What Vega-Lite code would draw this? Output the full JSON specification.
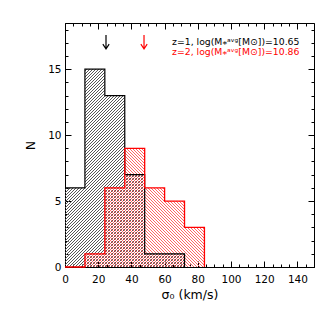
{
"$schema":"https://vega.github.io/schema/vega-lite/v6.json",
"width":249,"height":244,
"autosize":{"type":"none"},
"padding":{"left":65,"top":23,"right":22,"bottom":47},
"background":"white",
"datasets":{
"z1":[{"sigma":0,"n":6},{"sigma":12,"n":15},{"sigma":24,"n":13},{"sigma":36,"n":7},{"sigma":48,"n":1},{"sigma":60,"n":1},{"sigma":72,"n":0}],
"z2":[{"sigma":0,"n":0},{"sigma":12,"n":1},{"sigma":24,"n":6},{"sigma":36,"n":9},{"sigma":48,"n":6},{"sigma":60,"n":5},{"sigma":72,"n":3},{"sigma":84,"n":0}],
"arrows":[{"z":"z=1","sigma":24.7},{"z":"z=2","sigma":47.6}]
},
"config":{
"view":{"stroke":"#000","strokeWidth":1},
"axis":{"domain":false,"grid":false,"tickColor":"#000","tickWidth":1,"labelFont":"DejaVu Sans","labelFontSize":10.5,"labelColor":"#000","titleFont":"DejaVu Sans","titleFontSize":12.5,"titleFontWeight":"normal","titleColor":"#000","zindex":1,"labelFlush":false,"labelOverlap":false}
},
"resolve":{"axis":{"x":"independent","y":"independent"}},
"layer":[
{"data":{"name":"z1"},
"mark":{"type":"area","interpolate":"step-after","opacity":1,"fill":{"gradient":"linear","x1":0,"y1":0,"x2":0.8948645,"y2":1.4812422,"stops":[
{"offset":0.0021,"color":"#555"},{"offset":0.0046,"color":"#5550"},{"offset":0.0071,"color":"#5550"},
{"offset":0.0096,"color":"#555"},{"offset":0.0121,"color":"#5550"},{"offset":0.0146,"color":"#5550"},
{"offset":0.0171,"color":"#555"},{"offset":0.0196,"color":"#5550"},{"offset":0.0221,"color":"#5550"},
{"offset":0.0246,"color":"#555"},{"offset":0.0271,"color":"#5550"},{"offset":0.0296,"color":"#5550"},
{"offset":0.0321,"color":"#555"},{"offset":0.0346,"color":"#5550"},{"offset":0.0371,"color":"#5550"},
{"offset":0.0396,"color":"#555"},{"offset":0.0421,"color":"#5550"},{"offset":0.0446,"color":"#5550"},
{"offset":0.0471,"color":"#555"},{"offset":0.0496,"color":"#5550"},{"offset":0.0521,"color":"#5550"},
{"offset":0.0546,"color":"#555"},{"offset":0.0571,"color":"#5550"},{"offset":0.0596,"color":"#5550"},
{"offset":0.0621,"color":"#555"},{"offset":0.0646,"color":"#5550"},{"offset":0.0671,"color":"#5550"},
{"offset":0.0696,"color":"#555"},{"offset":0.0721,"color":"#5550"},{"offset":0.0746,"color":"#5550"},
{"offset":0.0771,"color":"#555"},{"offset":0.0796,"color":"#5550"},{"offset":0.0821,"color":"#5550"},
{"offset":0.0846,"color":"#555"},{"offset":0.0871,"color":"#5550"},{"offset":0.0896,"color":"#5550"},
{"offset":0.0921,"color":"#555"},{"offset":0.0946,"color":"#5550"},{"offset":0.0971,"color":"#5550"},
{"offset":0.0996,"color":"#555"},{"offset":0.1021,"color":"#5550"},{"offset":0.1046,"color":"#5550"},
{"offset":0.1071,"color":"#555"},{"offset":0.1096,"color":"#5550"},{"offset":0.1121,"color":"#5550"},
{"offset":0.1146,"color":"#555"},{"offset":0.1171,"color":"#5550"},{"offset":0.1196,"color":"#5550"},
{"offset":0.1221,"color":"#555"},{"offset":0.1246,"color":"#5550"},{"offset":0.1271,"color":"#5550"},
{"offset":0.1296,"color":"#555"},{"offset":0.1321,"color":"#5550"},{"offset":0.1346,"color":"#5550"},
{"offset":0.1371,"color":"#555"},{"offset":0.1396,"color":"#5550"},{"offset":0.1421,"color":"#5550"},
{"offset":0.1446,"color":"#555"},{"offset":0.1471,"color":"#5550"},{"offset":0.1496,"color":"#5550"},
{"offset":0.1521,"color":"#555"},{"offset":0.1546,"color":"#5550"},{"offset":0.1571,"color":"#5550"},
{"offset":0.1596,"color":"#555"},{"offset":0.1621,"color":"#5550"},{"offset":0.1646,"color":"#5550"},
{"offset":0.1671,"color":"#555"},{"offset":0.1696,"color":"#5550"},{"offset":0.1721,"color":"#5550"},
{"offset":0.1746,"color":"#555"},{"offset":0.1771,"color":"#5550"},{"offset":0.1796,"color":"#5550"},
{"offset":0.1821,"color":"#555"},{"offset":0.1846,"color":"#5550"},{"offset":0.1871,"color":"#5550"},
{"offset":0.1896,"color":"#555"},{"offset":0.1921,"color":"#5550"},{"offset":0.1946,"color":"#5550"},
{"offset":0.1971,"color":"#555"},{"offset":0.1996,"color":"#5550"},{"offset":0.2021,"color":"#5550"},
{"offset":0.2046,"color":"#555"},{"offset":0.2071,"color":"#5550"},{"offset":0.2096,"color":"#5550"},
{"offset":0.2121,"color":"#555"},{"offset":0.2146,"color":"#5550"},{"offset":0.2171,"color":"#5550"},
{"offset":0.2196,"color":"#555"},{"offset":0.2221,"color":"#5550"},{"offset":0.2246,"color":"#5550"},
{"offset":0.2271,"color":"#555"},{"offset":0.2296,"color":"#5550"},{"offset":0.2321,"color":"#5550"},
{"offset":0.2346,"color":"#555"},{"offset":0.2371,"color":"#5550"},{"offset":0.2396,"color":"#5550"},
{"offset":0.2421,"color":"#555"},{"offset":0.2446,"color":"#5550"},{"offset":0.2471,"color":"#5550"},
{"offset":0.2496,"color":"#555"},{"offset":0.2521,"color":"#5550"},{"offset":0.2546,"color":"#5550"},
{"offset":0.2571,"color":"#555"},{"offset":0.2596,"color":"#5550"},{"offset":0.2621,"color":"#5550"},
{"offset":0.2646,"color":"#555"},{"offset":0.2671,"color":"#5550"},{"offset":0.2696,"color":"#5550"},
{"offset":0.2721,"color":"#555"},{"offset":0.2746,"color":"#5550"},{"offset":0.2771,"color":"#5550"},
{"offset":0.2796,"color":"#555"},{"offset":0.2821,"color":"#5550"},{"offset":0.2846,"color":"#5550"},
{"offset":0.2871,"color":"#555"},{"offset":0.2896,"color":"#5550"},{"offset":0.2921,"color":"#5550"},
{"offset":0.2946,"color":"#555"},{"offset":0.2971,"color":"#5550"},{"offset":0.2996,"color":"#5550"},
{"offset":0.3021,"color":"#555"},{"offset":0.3046,"color":"#5550"},{"offset":0.3071,"color":"#5550"},
{"offset":0.3096,"color":"#555"},{"offset":0.3121,"color":"#5550"},{"offset":0.3146,"color":"#5550"},
{"offset":0.3171,"color":"#555"},{"offset":0.3196,"color":"#5550"},{"offset":0.3221,"color":"#5550"},
{"offset":0.3246,"color":"#555"},{"offset":0.3271,"color":"#5550"},{"offset":0.3296,"color":"#5550"},
{"offset":0.3321,"color":"#555"},{"offset":0.3346,"color":"#5550"},{"offset":0.3371,"color":"#5550"},
{"offset":0.3396,"color":"#555"},{"offset":0.3421,"color":"#5550"},{"offset":0.3446,"color":"#5550"},
{"offset":0.3471,"color":"#555"},{"offset":0.3496,"color":"#5550"},{"offset":0.3521,"color":"#5550"},
{"offset":0.3546,"color":"#555"},{"offset":0.3571,"color":"#5550"},{"offset":0.3596,"color":"#5550"},
{"offset":0.3621,"color":"#555"},{"offset":0.3646,"color":"#5550"},{"offset":0.3671,"color":"#5550"},
{"offset":0.3696,"color":"#555"},{"offset":0.3721,"color":"#5550"},{"offset":0.3746,"color":"#5550"},
{"offset":0.3771,"color":"#555"},{"offset":0.3796,"color":"#5550"},{"offset":0.3821,"color":"#5550"},
{"offset":0.3846,"color":"#555"},{"offset":0.3871,"color":"#5550"},{"offset":0.3896,"color":"#5550"},
{"offset":0.3921,"color":"#555"},{"offset":0.3946,"color":"#5550"},{"offset":0.3971,"color":"#5550"},
{"offset":0.3996,"color":"#555"},{"offset":0.4021,"color":"#5550"},{"offset":0.4046,"color":"#5550"},
{"offset":0.4071,"color":"#555"},{"offset":0.4096,"color":"#5550"},{"offset":0.4121,"color":"#5550"},
{"offset":0.4146,"color":"#555"},{"offset":0.4171,"color":"#5550"},{"offset":0.4196,"color":"#5550"},
{"offset":0.4221,"color":"#555"},{"offset":0.4246,"color":"#5550"},{"offset":0.4271,"color":"#5550"},
{"offset":0.4296,"color":"#555"},{"offset":0.4321,"color":"#5550"},{"offset":0.4346,"color":"#5550"},
{"offset":0.4371,"color":"#555"},{"offset":0.4396,"color":"#5550"},{"offset":0.4421,"color":"#5550"},
{"offset":0.4446,"color":"#555"},{"offset":0.4471,"color":"#5550"},{"offset":0.4496,"color":"#5550"},
{"offset":0.4521,"color":"#555"},{"offset":0.4546,"color":"#5550"},{"offset":0.4571,"color":"#5550"},
{"offset":0.4596,"color":"#555"},{"offset":0.4621,"color":"#5550"},{"offset":0.4646,"color":"#5550"},
{"offset":0.4671,"color":"#555"},{"offset":0.4696,"color":"#5550"},{"offset":0.4721,"color":"#5550"},
{"offset":0.4746,"color":"#555"},{"offset":0.4771,"color":"#5550"},{"offset":0.4796,"color":"#5550"},
{"offset":0.4821,"color":"#555"},{"offset":0.4846,"color":"#5550"},{"offset":0.4871,"color":"#5550"},
{"offset":0.4896,"color":"#555"},{"offset":0.4921,"color":"#5550"},{"offset":0.4946,"color":"#5550"},
{"offset":0.4971,"color":"#555"},{"offset":0.4996,"color":"#5550"},{"offset":0.5021,"color":"#5550"},
{"offset":0.5046,"color":"#555"},{"offset":0.5071,"color":"#5550"},{"offset":0.5096,"color":"#5550"},
{"offset":0.5121,"color":"#555"},{"offset":0.5146,"color":"#5550"},{"offset":0.5171,"color":"#5550"},
{"offset":0.5196,"color":"#555"},{"offset":0.5221,"color":"#5550"},{"offset":0.5246,"color":"#5550"},
{"offset":0.5271,"color":"#555"},{"offset":0.5296,"color":"#5550"},{"offset":0.5321,"color":"#5550"},
{"offset":0.5346,"color":"#555"},{"offset":0.5371,"color":"#5550"},{"offset":0.5396,"color":"#5550"},
{"offset":0.5421,"color":"#555"},{"offset":0.5446,"color":"#5550"},{"offset":0.5471,"color":"#5550"},
{"offset":0.5496,"color":"#555"},{"offset":0.5521,"color":"#5550"},{"offset":0.5546,"color":"#5550"},
{"offset":0.5571,"color":"#555"},{"offset":0.5596,"color":"#5550"},{"offset":0.5621,"color":"#5550"},
{"offset":0.5646,"color":"#555"},{"offset":0.5671,"color":"#5550"},{"offset":0.5696,"color":"#5550"},
{"offset":0.5721,"color":"#555"},{"offset":0.5746,"color":"#5550"},{"offset":0.5771,"color":"#5550"},
{"offset":0.5796,"color":"#555"},{"offset":0.5821,"color":"#5550"},{"offset":0.5846,"color":"#5550"},
{"offset":0.5871,"color":"#555"},{"offset":0.5896,"color":"#5550"},{"offset":0.5921,"color":"#5550"},
{"offset":0.5946,"color":"#555"},{"offset":0.5971,"color":"#5550"},{"offset":0.5996,"color":"#5550"},
{"offset":0.6021,"color":"#555"},{"offset":0.6046,"color":"#5550"},{"offset":0.6071,"color":"#5550"},
{"offset":0.6096,"color":"#555"},{"offset":0.6121,"color":"#5550"},{"offset":0.6146,"color":"#5550"},
{"offset":0.6171,"color":"#555"},{"offset":0.6196,"color":"#5550"},{"offset":0.6221,"color":"#5550"},
{"offset":0.6246,"color":"#555"},{"offset":0.6271,"color":"#5550"},{"offset":0.6296,"color":"#5550"},
{"offset":0.6321,"color":"#555"},{"offset":0.6346,"color":"#5550"},{"offset":0.6371,"color":"#5550"},
{"offset":0.6396,"color":"#555"},{"offset":0.6421,"color":"#5550"},{"offset":0.6446,"color":"#5550"},
{"offset":0.6471,"color":"#555"},{"offset":0.6496,"color":"#5550"},{"offset":0.6521,"color":"#5550"},
{"offset":0.6546,"color":"#555"},{"offset":0.6571,"color":"#5550"},{"offset":0.6596,"color":"#5550"},
{"offset":0.6621,"color":"#555"},{"offset":0.6646,"color":"#5550"},{"offset":0.6671,"color":"#5550"},
{"offset":0.6696,"color":"#555"},{"offset":0.6721,"color":"#5550"},{"offset":0.6746,"color":"#5550"},
{"offset":0.6771,"color":"#555"},{"offset":0.6796,"color":"#5550"},{"offset":0.6821,"color":"#5550"},
{"offset":0.6846,"color":"#555"},{"offset":0.6871,"color":"#5550"},{"offset":0.6896,"color":"#5550"},
{"offset":0.6921,"color":"#555"},{"offset":0.6946,"color":"#5550"},{"offset":0.6971,"color":"#5550"},
{"offset":0.6996,"color":"#555"},{"offset":0.7021,"color":"#5550"},{"offset":0.7046,"color":"#5550"},
{"offset":0.7071,"color":"#555"},{"offset":0.7096,"color":"#5550"},{"offset":0.7121,"color":"#5550"},
{"offset":0.7146,"color":"#555"},{"offset":0.7171,"color":"#5550"},{"offset":0.7196,"color":"#5550"},
{"offset":0.7221,"color":"#555"},{"offset":0.7246,"color":"#5550"},{"offset":0.7271,"color":"#5550"},
{"offset":0.7296,"color":"#555"},{"offset":0.7321,"color":"#5550"},{"offset":0.7346,"color":"#5550"},
{"offset":0.7371,"color":"#555"},{"offset":0.7396,"color":"#5550"},{"offset":0.7421,"color":"#5550"},
{"offset":0.7446,"color":"#555"},{"offset":0.7471,"color":"#5550"},{"offset":0.7496,"color":"#5550"},
{"offset":0.7521,"color":"#555"},{"offset":0.7546,"color":"#5550"},{"offset":0.7571,"color":"#5550"},
{"offset":0.7596,"color":"#555"},{"offset":0.7621,"color":"#5550"},{"offset":0.7646,"color":"#5550"},
{"offset":0.7671,"color":"#555"},{"offset":0.7696,"color":"#5550"},{"offset":0.7721,"color":"#5550"},
{"offset":0.7746,"color":"#555"},{"offset":0.7771,"color":"#5550"},{"offset":0.7796,"color":"#5550"},
{"offset":0.7821,"color":"#555"},{"offset":0.7846,"color":"#5550"},{"offset":0.7871,"color":"#5550"},
{"offset":0.7896,"color":"#555"},{"offset":0.7921,"color":"#5550"},{"offset":0.7946,"color":"#5550"}
]}},
"encoding":{
"x":{"field":"sigma","type":"quantitative","scale":{"domain":[0,150],"nice":false,"zero":false},"axis":{"orient":"bottom","values":[0,20,40,60,80,100,120,140],"tickSize":-6,"labelPadding":13,"title":"σ₀ (km/s)","titleX":124.5,"titleY":27,"titleBaseline":"middle","titleAlign":"center"}},
"y":{"field":"n","type":"quantitative","scale":{"domain":[0,18.5],"nice":false,"zero":false},"axis":{"orient":"left","values":[0,5,10,15],"tickSize":-6,"labelPadding":10,"title":"N","titleX":-35,"titleY":122,"titleAngle":-90,"titleBaseline":"middle","titleAlign":"center"}}
}},
{"data":{"name":"z2"},
"mark":{"type":"area","interpolate":"step-after","opacity":1,"fill":{"gradient":"linear","x1":0,"y1":1,"x2":1.6632748,"y2":-0.4159152,"stops":[
{"offset":0,"color":"#f66"},{"offset":0.0025,"color":"#f660"},{"offset":0.005,"color":"#f660"},
{"offset":0.0075,"color":"#f66"},{"offset":0.01,"color":"#f660"},{"offset":0.0125,"color":"#f660"},
{"offset":0.015,"color":"#f66"},{"offset":0.0175,"color":"#f660"},{"offset":0.02,"color":"#f660"},
{"offset":0.0225,"color":"#f66"},{"offset":0.025,"color":"#f660"},{"offset":0.0275,"color":"#f660"},
{"offset":0.03,"color":"#f66"},{"offset":0.0325,"color":"#f660"},{"offset":0.035,"color":"#f660"},
{"offset":0.0375,"color":"#f66"},{"offset":0.04,"color":"#f660"},{"offset":0.0425,"color":"#f660"},
{"offset":0.045,"color":"#f66"},{"offset":0.0475,"color":"#f660"},{"offset":0.05,"color":"#f660"},
{"offset":0.0525,"color":"#f66"},{"offset":0.055,"color":"#f660"},{"offset":0.0575,"color":"#f660"},
{"offset":0.06,"color":"#f66"},{"offset":0.0625,"color":"#f660"},{"offset":0.065,"color":"#f660"},
{"offset":0.0675,"color":"#f66"},{"offset":0.07,"color":"#f660"},{"offset":0.0725,"color":"#f660"},
{"offset":0.075,"color":"#f66"},{"offset":0.0775,"color":"#f660"},{"offset":0.08,"color":"#f660"},
{"offset":0.0825,"color":"#f66"},{"offset":0.085,"color":"#f660"},{"offset":0.0875,"color":"#f660"},
{"offset":0.09,"color":"#f66"},{"offset":0.0925,"color":"#f660"},{"offset":0.095,"color":"#f660"},
{"offset":0.0975,"color":"#f66"},{"offset":0.1,"color":"#f660"},{"offset":0.1025,"color":"#f660"},
{"offset":0.105,"color":"#f66"},{"offset":0.1075,"color":"#f660"},{"offset":0.11,"color":"#f660"},
{"offset":0.1125,"color":"#f66"},{"offset":0.115,"color":"#f660"},{"offset":0.1175,"color":"#f660"},
{"offset":0.12,"color":"#f66"},{"offset":0.1225,"color":"#f660"},{"offset":0.125,"color":"#f660"},
{"offset":0.1275,"color":"#f66"},{"offset":0.13,"color":"#f660"},{"offset":0.1325,"color":"#f660"},
{"offset":0.135,"color":"#f66"},{"offset":0.1375,"color":"#f660"},{"offset":0.14,"color":"#f660"},
{"offset":0.1425,"color":"#f66"},{"offset":0.145,"color":"#f660"},{"offset":0.1475,"color":"#f660"},
{"offset":0.15,"color":"#f66"},{"offset":0.1525,"color":"#f660"},{"offset":0.155,"color":"#f660"},
{"offset":0.1575,"color":"#f66"},{"offset":0.16,"color":"#f660"},{"offset":0.1625,"color":"#f660"},
{"offset":0.165,"color":"#f66"},{"offset":0.1675,"color":"#f660"},{"offset":0.17,"color":"#f660"},
{"offset":0.1725,"color":"#f66"},{"offset":0.175,"color":"#f660"},{"offset":0.1775,"color":"#f660"},
{"offset":0.18,"color":"#f66"},{"offset":0.1825,"color":"#f660"},{"offset":0.185,"color":"#f660"},
{"offset":0.1875,"color":"#f66"},{"offset":0.19,"color":"#f660"},{"offset":0.1925,"color":"#f660"},
{"offset":0.195,"color":"#f66"},{"offset":0.1975,"color":"#f660"},{"offset":0.2,"color":"#f660"},
{"offset":0.2025,"color":"#f66"},{"offset":0.205,"color":"#f660"},{"offset":0.2075,"color":"#f660"},
{"offset":0.21,"color":"#f66"},{"offset":0.2125,"color":"#f660"},{"offset":0.215,"color":"#f660"},
{"offset":0.2175,"color":"#f66"},{"offset":0.22,"color":"#f660"},{"offset":0.2225,"color":"#f660"},
{"offset":0.225,"color":"#f66"},{"offset":0.2275,"color":"#f660"},{"offset":0.23,"color":"#f660"},
{"offset":0.2325,"color":"#f66"},{"offset":0.235,"color":"#f660"},{"offset":0.2375,"color":"#f660"},
{"offset":0.24,"color":"#f66"},{"offset":0.2425,"color":"#f660"},{"offset":0.245,"color":"#f660"},
{"offset":0.2475,"color":"#f66"},{"offset":0.25,"color":"#f660"},{"offset":0.2525,"color":"#f660"},
{"offset":0.255,"color":"#f66"},{"offset":0.2575,"color":"#f660"},{"offset":0.26,"color":"#f660"},
{"offset":0.2625,"color":"#f66"},{"offset":0.265,"color":"#f660"},{"offset":0.2675,"color":"#f660"},
{"offset":0.27,"color":"#f66"},{"offset":0.2725,"color":"#f660"},{"offset":0.275,"color":"#f660"},
{"offset":0.2775,"color":"#f66"},{"offset":0.28,"color":"#f660"},{"offset":0.2825,"color":"#f660"},
{"offset":0.285,"color":"#f66"},{"offset":0.2875,"color":"#f660"},{"offset":0.29,"color":"#f660"},
{"offset":0.2925,"color":"#f66"},{"offset":0.295,"color":"#f660"},{"offset":0.2975,"color":"#f660"},
{"offset":0.3,"color":"#f66"},{"offset":0.3025,"color":"#f660"},{"offset":0.305,"color":"#f660"},
{"offset":0.3075,"color":"#f66"},{"offset":0.31,"color":"#f660"},{"offset":0.3125,"color":"#f660"},
{"offset":0.315,"color":"#f66"},{"offset":0.3175,"color":"#f660"},{"offset":0.32,"color":"#f660"},
{"offset":0.3225,"color":"#f66"},{"offset":0.325,"color":"#f660"},{"offset":0.3275,"color":"#f660"},
{"offset":0.33,"color":"#f66"},{"offset":0.3325,"color":"#f660"},{"offset":0.335,"color":"#f660"},
{"offset":0.3375,"color":"#f66"},{"offset":0.34,"color":"#f660"},{"offset":0.3425,"color":"#f660"},
{"offset":0.345,"color":"#f66"},{"offset":0.3475,"color":"#f660"},{"offset":0.35,"color":"#f660"},
{"offset":0.3525,"color":"#f66"},{"offset":0.355,"color":"#f660"},{"offset":0.3575,"color":"#f660"},
{"offset":0.36,"color":"#f66"},{"offset":0.3625,"color":"#f660"},{"offset":0.365,"color":"#f660"},
{"offset":0.3675,"color":"#f66"},{"offset":0.37,"color":"#f660"},{"offset":0.3725,"color":"#f660"},
{"offset":0.375,"color":"#f66"},{"offset":0.3775,"color":"#f660"},{"offset":0.38,"color":"#f660"},
{"offset":0.3825,"color":"#f66"},{"offset":0.385,"color":"#f660"},{"offset":0.3875,"color":"#f660"},
{"offset":0.39,"color":"#f66"},{"offset":0.3925,"color":"#f660"},{"offset":0.395,"color":"#f660"},
{"offset":0.3975,"color":"#f66"},{"offset":0.4,"color":"#f660"},{"offset":0.4025,"color":"#f660"},
{"offset":0.405,"color":"#f66"},{"offset":0.4075,"color":"#f660"},{"offset":0.41,"color":"#f660"},
{"offset":0.4125,"color":"#f66"},{"offset":0.415,"color":"#f660"},{"offset":0.4175,"color":"#f660"},
{"offset":0.42,"color":"#f66"},{"offset":0.4225,"color":"#f660"},{"offset":0.425,"color":"#f660"},
{"offset":0.4275,"color":"#f66"},{"offset":0.43,"color":"#f660"},{"offset":0.4325,"color":"#f660"},
{"offset":0.435,"color":"#f66"},{"offset":0.4375,"color":"#f660"},{"offset":0.44,"color":"#f660"},
{"offset":0.4425,"color":"#f66"},{"offset":0.445,"color":"#f660"},{"offset":0.4475,"color":"#f660"},
{"offset":0.45,"color":"#f66"},{"offset":0.4525,"color":"#f660"},{"offset":0.455,"color":"#f660"},
{"offset":0.4575,"color":"#f66"},{"offset":0.46,"color":"#f660"},{"offset":0.4625,"color":"#f660"},
{"offset":0.465,"color":"#f66"},{"offset":0.4675,"color":"#f660"},{"offset":0.47,"color":"#f660"},
{"offset":0.4725,"color":"#f66"},{"offset":0.475,"color":"#f660"},{"offset":0.4775,"color":"#f660"},
{"offset":0.48,"color":"#f66"},{"offset":0.4825,"color":"#f660"},{"offset":0.485,"color":"#f660"},
{"offset":0.4875,"color":"#f66"},{"offset":0.49,"color":"#f660"},{"offset":0.4925,"color":"#f660"},
{"offset":0.495,"color":"#f66"},{"offset":0.4975,"color":"#f660"},{"offset":0.5,"color":"#f660"},
{"offset":0.5025,"color":"#f66"},{"offset":0.505,"color":"#f660"},{"offset":0.5075,"color":"#f660"},
{"offset":0.51,"color":"#f66"},{"offset":0.5125,"color":"#f660"},{"offset":0.515,"color":"#f660"},
{"offset":0.5175,"color":"#f66"},{"offset":0.52,"color":"#f660"},{"offset":0.5225,"color":"#f660"},
{"offset":0.525,"color":"#f66"},{"offset":0.5275,"color":"#f660"},{"offset":0.53,"color":"#f660"},
{"offset":0.5325,"color":"#f66"},{"offset":0.535,"color":"#f660"},{"offset":0.5375,"color":"#f660"},
{"offset":0.54,"color":"#f66"},{"offset":0.5425,"color":"#f660"},{"offset":0.545,"color":"#f660"},
{"offset":0.5475,"color":"#f66"},{"offset":0.55,"color":"#f660"},{"offset":0.5525,"color":"#f660"},
{"offset":0.555,"color":"#f66"},{"offset":0.5575,"color":"#f660"},{"offset":0.56,"color":"#f660"},
{"offset":0.5625,"color":"#f66"},{"offset":0.565,"color":"#f660"},{"offset":0.5675,"color":"#f660"},
{"offset":0.57,"color":"#f66"},{"offset":0.5725,"color":"#f660"},{"offset":0.575,"color":"#f660"},
{"offset":0.5775,"color":"#f66"},{"offset":0.58,"color":"#f660"},{"offset":0.5825,"color":"#f660"},
{"offset":0.585,"color":"#f66"},{"offset":0.5875,"color":"#f660"},{"offset":0.59,"color":"#f660"},
{"offset":0.5925,"color":"#f66"},{"offset":0.595,"color":"#f660"},{"offset":0.5975,"color":"#f660"},
{"offset":0.6,"color":"#f66"},{"offset":0.6025,"color":"#f660"},{"offset":0.605,"color":"#f660"},
{"offset":0.6075,"color":"#f66"},{"offset":0.61,"color":"#f660"},{"offset":0.6125,"color":"#f660"},
{"offset":0.615,"color":"#f66"},{"offset":0.6175,"color":"#f660"},{"offset":0.62,"color":"#f660"},
{"offset":0.6225,"color":"#f66"},{"offset":0.625,"color":"#f660"},{"offset":0.6275,"color":"#f660"},
{"offset":0.63,"color":"#f66"},{"offset":0.6325,"color":"#f660"},{"offset":0.635,"color":"#f660"},
{"offset":0.6375,"color":"#f66"},{"offset":0.64,"color":"#f660"},{"offset":0.6425,"color":"#f660"},
{"offset":0.645,"color":"#f66"}
]}},
"encoding":{
"x":{"field":"sigma","type":"quantitative","scale":{"domain":[0,150],"nice":false,"zero":false},"axis":{"orient":"bottom","values":[0,5,10,15,20,25,30,35,40,45,50,55,60,65,70,75,80,85,90,95,100,105,110,115,120,125,130,135,140,145,150],"tickSize":-3,"labels":false,"title":null}},
"y":{"field":"n","type":"quantitative","scale":{"domain":[0,18.5],"nice":false,"zero":false},"axis":{"orient":"left","values":[0,1,2,3,4,5,6,7,8,9,10,11,12,13,14,15,16,17,18],"tickSize":-3,"labels":false,"title":null}}
}},
{"data":{"name":"z1"},
"mark":{"type":"line","interpolate":"step-after","color":"#000","strokeWidth":1.2},
"encoding":{
"x":{"field":"sigma","type":"quantitative","scale":{"domain":[0,150],"nice":false,"zero":false},"axis":{"orient":"top","values":[0,20,40,60,80,100,120,140],"tickSize":-6,"labels":false,"title":null}},
"y":{"field":"n","type":"quantitative","scale":{"domain":[0,18.5],"nice":false,"zero":false},"axis":{"orient":"right","values":[0,5,10,15],"tickSize":-6,"labels":false,"title":null}}
}},
{"data":{"name":"z2"},
"mark":{"type":"line","interpolate":"step-after","color":"#ff0000","strokeWidth":1.3},
"encoding":{
"x":{"field":"sigma","type":"quantitative","scale":{"domain":[0,150],"nice":false,"zero":false},"axis":{"orient":"top","values":[0,5,10,15,20,25,30,35,40,45,50,55,60,65,70,75,80,85,90,95,100,105,110,115,120,125,130,135,140,145,150],"tickSize":-3,"labels":false,"title":null}},
"y":{"field":"n","type":"quantitative","scale":{"domain":[0,18.5],"nice":false,"zero":false},"axis":{"orient":"right","values":[0,1,2,3,4,5,6,7,8,9,10,11,12,13,14,15,16,17,18],"tickSize":-3,"labels":false,"title":null}}
}},
{"data":{"name":"arrows"},
"mark":{"type":"point","shape":"M0,-1L0,1M-0.45,0.3L0,1L0.45,0.3","filled":false,"size":196,"strokeWidth":1.2,"opacity":1},
"encoding":{
"x":{"field":"sigma","type":"quantitative","scale":{"domain":[0,150],"nice":false,"zero":false},"axis":null},
"y":{"datum":17.06,"type":"quantitative","scale":{"domain":[0,18.5],"nice":false,"zero":false},"axis":null},
"color":{"field":"z","type":"nominal","scale":{"domain":["z=1","z=2"],"range":["#000000","#ff0000"]},"legend":null}
}},
{"data":{"values":[{"label":"z=1, log(M⁎ᵃᵛᵍ[M⊙])=10.65"}]},
"mark":{"type":"text","font":"DejaVu Sans","fontSize":9.3,"baseline":"middle","align":"left","color":"#000"},
"encoding":{
"text":{"field":"label"},
"x":{"datum":64.5,"type":"quantitative","scale":{"domain":[0,150],"nice":false,"zero":false},"axis":null},
"y":{"datum":17.06,"type":"quantitative","scale":{"domain":[0,18.5],"nice":false,"zero":false},"axis":null}
}},
{"data":{"values":[{"label":"z=2, log(M⁎ᵃᵛᵍ[M⊙])=10.86"}]},
"mark":{"type":"text","font":"DejaVu Sans","fontSize":9.3,"baseline":"middle","align":"left","color":"#ff0000"},
"encoding":{
"text":{"field":"label"},
"x":{"datum":64.5,"type":"quantitative","scale":{"domain":[0,150],"nice":false,"zero":false},"axis":null},
"y":{"datum":16.3,"type":"quantitative","scale":{"domain":[0,18.5],"nice":false,"zero":false},"axis":null}
}}
]
}
